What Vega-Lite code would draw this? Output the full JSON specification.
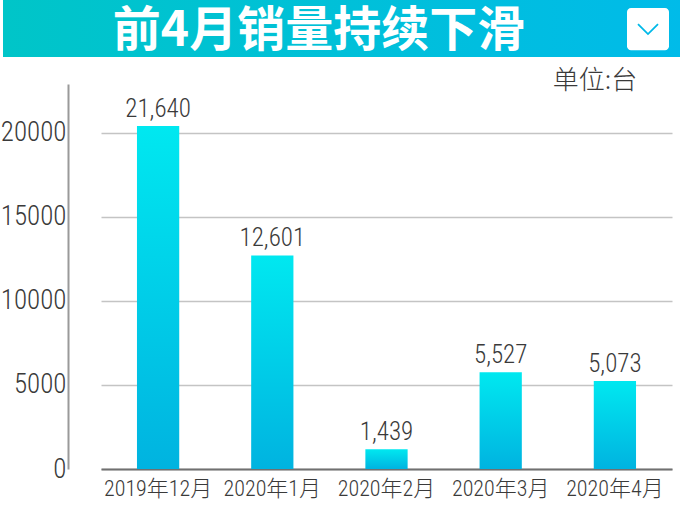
{
  "$schema": "https://vega.github.io/schema/vega-lite/v6.json",
  "padding": 0,
  "background": "white",
  "spacing": 11,
  "config": {
    "view": {"stroke": null},
    "font": "Roboto Condensed, Roboto, Noto Sans CJK SC"
  },
  "vconcat": [
    {
      "width": 615,
      "height": 57,
      "data": {"values": [{"title": "前4月销量持续下滑"}]},
      "layer": [
        {
          "mark": {
            "type": "rect",
            "x": {"expr": "-65"},
            "x2": {"expr": "concat_0_width"},
            "y": {"expr": "0"},
            "y2": {"expr": "concat_0_height"},
            "fill": {
              "gradient": "linear",
              "x1": 0, "y1": 0, "x2": 1, "y2": 0,
              "stops": [
                {"offset": 0, "color": "#00c5c8"},
                {"offset": 1, "color": "#00bbe9"}
              ]
            }
          },
          "encoding": {}
        },
        {
          "mark": {
            "type": "text",
            "font": "Noto Sans CJK SC",
            "fontWeight": "bold",
            "fontSize": 48,
            "color": "white",
            "align": "center",
            "baseline": "middle",
            "x": {"expr": "(concat_0_width + 65) / 2 - 89"},
            "y": {"expr": "concat_0_height * 0.56"}
          },
          "encoding": {"text": {"field": "title"}}
        },
        {
          "mark": {
            "type": "rect",
            "fill": "white",
            "cornerRadius": 4,
            "x": {"expr": "concat_0_width - 56"},
            "x2": {"expr": "concat_0_width - 14"},
            "y": {"expr": "concat_0_height * 0.14"},
            "y2": {"expr": "concat_0_height * 0.88"}
          },
          "encoding": {}
        },
        {
          "mark": {
            "type": "point",
            "shape": "M-1,-0.5L0,0.5L1,-0.5",
            "filled": false,
            "stroke": "#00b9e8",
            "strokeWidth": 1.8,
            "opacity": 1,
            "size": 400,
            "x": {"expr": "concat_0_width - 35"},
            "y": {"expr": "concat_0_height * 0.51"}
          },
          "encoding": {}
        }
      ]
    },
    {
      "width": 587,
      "height": 385,
      "title": {
        "text": "单位:台",
        "anchor": "end",
        "orient": "top",
        "fontSize": 26,
        "fontWeight": 300,
        "color": "#3a3a3a",
        "font": "Noto Sans CJK SC",
        "dx": -26,
        "offset": -10
      },
      "data": {
        "values": [
          {"month": "2019年12月", "value": 20400, "label": "21,640"},
          {"month": "2020年1月", "value": 12700, "label": "12,601"},
          {"month": "2020年2月", "value": 1170, "label": "1,439"},
          {"month": "2020年3月", "value": 5750, "label": "5,527"},
          {"month": "2020年4月", "value": 5240, "label": "5,073"}
        ]
      },
      "encoding": {
        "x": {
          "field": "month",
          "type": "nominal",
          "sort": null,
          "scale": {"range": [33, 604], "paddingInner": 0.63, "paddingOuter": 0.315},
          "axis": {
            "title": null,
            "labelAngle": 0,
            "labelFontSize": 22,
            "labelFontWeight": 300,
            "labelColor": "#3a3a3a",
            "labelPadding": 9,
            "ticks": false,
            "domainColor": "#707070",
            "domainWidth": 2,
            "grid": false
          }
        },
        "y": {
          "field": "value",
          "type": "quantitative",
          "scale": {"domain": [0, 22900], "nice": false},
          "axis": {
            "title": null,
            "values": [0, 5000, 10000, 15000, 20000],
            "format": "d",
            "labelFontSize": 27,
            "labelFontWeight": 300,
            "labelColor": "#3a3a3a",
            "labelPadding": 2,
            "ticks": false,
            "domainColor": "#9a9a9a",
            "domainWidth": 2,
            "gridColor": "#c4c4c4",
            "gridWidth": 1.5,
            "minExtent": 65,
            "maxExtent": 65
          }
        }
      },
      "layer": [
        {
          "mark": {
            "type": "bar",
            "fill": {
              "gradient": "linear",
              "x1": 0, "y1": 0, "x2": 0, "y2": 1,
              "stops": [
                {"offset": 0, "color": "#00e8f0"},
                {"offset": 1, "color": "#00b3e0"}
              ]
            }
          }
        },
        {
          "mark": {
            "type": "text",
            "fontSize": 25,
            "fontWeight": 300,
            "color": "#3a3a3a",
            "baseline": "alphabetic",
            "dy": -9
          },
          "encoding": {"text": {"field": "label"}}
        }
      ]
    }
  ]
}
